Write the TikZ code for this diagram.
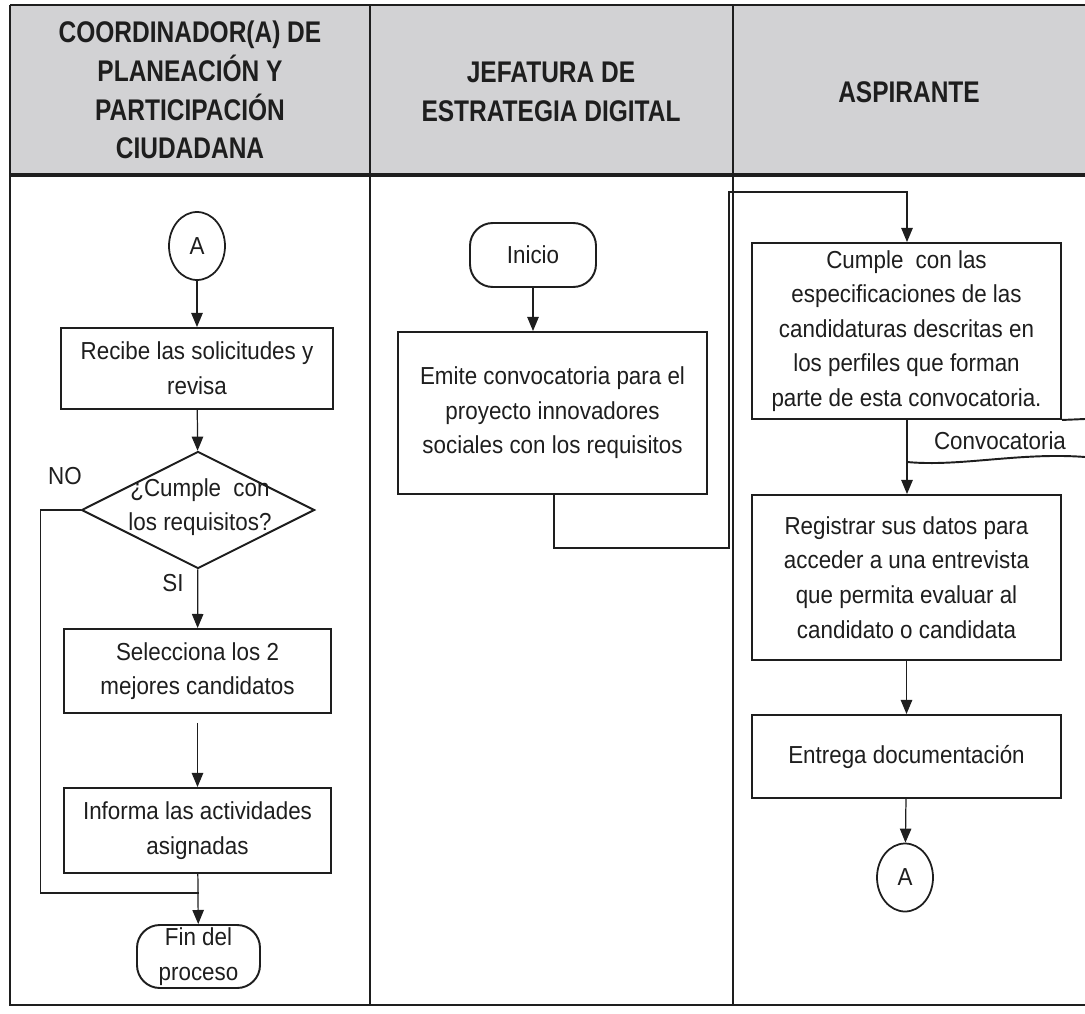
\documentclass[tikz,border=0pt]{standalone}
\usepackage{fontspec}
\setmainfont{Liberation Sans}[FakeStretch=0.91]
\newfontfamily\hdrfont{Liberation Sans}[FakeStretch=0.82]
\usetikzlibrary{arrows.meta,shapes.geometric}
\newdimen\px \px=0.02cm
\definecolor{hdrgray}{RGB}{210,210,212}
\definecolor{ink}{RGB}{30,30,30}
\begin{document}
\begin{tikzpicture}[x=0.02cm,y=-0.02cm,
  txt/.style={font=\fontsize{14}{19.7}\selectfont, text=ink},
  proc/.style={txt, draw=ink, line width=1.1pt, fill=white, align=center, inner sep=0pt},
  term/.style={proc, rounded corners=13pt},
  conn/.style={txt, draw=ink, line width=1pt, ellipse, fill=white, inner sep=0pt,
    minimum width=56\px, minimum height=68\px},
  flow/.style={draw=ink, line width=0.7pt, -{Triangle[length=8pt,width=6.5pt]}},
  plain/.style={draw=ink, line width=0.7pt},
  hdr/.style={font=\hdrfont\bfseries\fontsize{17}{22}\selectfont, align=center, text=ink},
  frame/.style={draw=ink, line width=1.3pt}
]
\useasboundingbox (0,0) rectangle (1085,1014);
% lanes
\fill[hdrgray] (10,5) rectangle (1085,175);
\draw[frame] (10,5) -- (1085,5);
\draw[frame] (10,5) -- (10,1005) -- (1085,1005);
\draw[frame] (370,5) -- (370,1005);
\draw[frame] (733,5) -- (733,1005);
\draw[draw=ink, line width=2.2pt] (10,175) -- (1085,175);
\node[hdr] (h1) at (190,90) {COORDINADOR(A) DE\\PLANEACIÓN Y\\PARTICIPACIÓN\\CIUDADANA};
\node[hdr] (h2) at (551,92) {JEFATURA DE\\ESTRATEGIA DIGITAL};
\node[hdr] (h3) at (909,92) {ASPIRANTE};

% column 1
\node[conn] (A1) at (197,246) {A};
\node[proc, minimum width=272\px, minimum height=81\px] (recibe) at (197,368.5) {Recibe las solicitudes y\\revisa};
\node[diamond, draw=ink, line width=1.1pt, fill=white, minimum width=233\px, minimum height=117\px, inner sep=0pt] (dec) at (198,510) {};
\node[txt, align=center] (dectxt) at (200,507) {¿Cumple\hspace{0.5em}con\\los requisitos?};
\node[proc, minimum width=267\px, minimum height=84\px] (select) at (197.5,671) {Selecciona los 2\\mejores candidatos};
\node[proc, minimum width=267\px, minimum height=85\px] (informa) at (197.5,830.5) {Informa las actividades\\asignadas};
\node[term, minimum width=123\px, minimum height=63\px] (fin) at (198.5,956.5) {Fin del\\proceso};
\node[txt] (no) at (65,476) {NO};
\node[txt] (si) at (173,583) {SI};
\coordinate (nojoin) at (198.5,893);

\draw[flow] (A1) -- (recibe);
\draw[flow] (recibe) -- (dec);
\draw[flow] (dec) -- (select);
\draw[flow, shorten <=9\px] (select) -- (informa);
\draw[flow] (informa) -- (fin);
\draw[plain] (dec.west) -- ++(-40,0) |- (nojoin);

% column 2
\node[term, minimum width=126\px, minimum height=64\px] (inicio) at (533,255) {Inicio};
\node[proc, minimum width=309\px, minimum height=162\px] (emite) at (552.5,413) {Emite convocatoria para el\\proyecto innovadores\\sociales con los requisitos};
\draw[flow] (inicio) -- (inicio |- emite.north);
\coordinate (k1) at (554,548);
\coordinate (k2) at (729,548);
\coordinate (k3) at (729,192);
\coordinate (k4) at (907,192);

% column 3
\node[proc, minimum width=309\px, minimum height=176\px] (cumple) at (906.5,331) {Cumple\hspace{0.5em}con las\\especificaciones de las\\candidaturas descritas en\\los perfiles que forman\\parte de esta convocatoria.};
\node[proc, minimum width=309\px, minimum height=165\px] (registrar) at (906.5,577.5) {Registrar sus datos para\\acceder a una entrevista\\que permita evaluar al\\candidato o candidata};
\node[proc, minimum width=309\px, minimum height=83\px] (entrega) at (906.5,756.5) {Entrega documentación};
\node[conn] (A2) at (905,877.5) {A};
\node[txt] (conv) at (1000,441) {Convocatoria};

\draw[flow] (emite.south -| k1) -- (k1) -- (k2) -- (k3) -- (k4) -- (cumple.north -| k4);
\draw[draw=ink, line width=1.1pt] (cumple.south east) -- (1085,419);
\draw[draw=ink, line width=1.1pt] (907,462) .. controls (960,467) and (1020,452) .. (1085,457);
\draw[flow] (cumple.south -| k4) -- (registrar.north -| k4);
\draw[flow] (registrar) -- (entrega);
\draw[flow] (entrega) -- (A2);
\end{tikzpicture}
\end{document}
